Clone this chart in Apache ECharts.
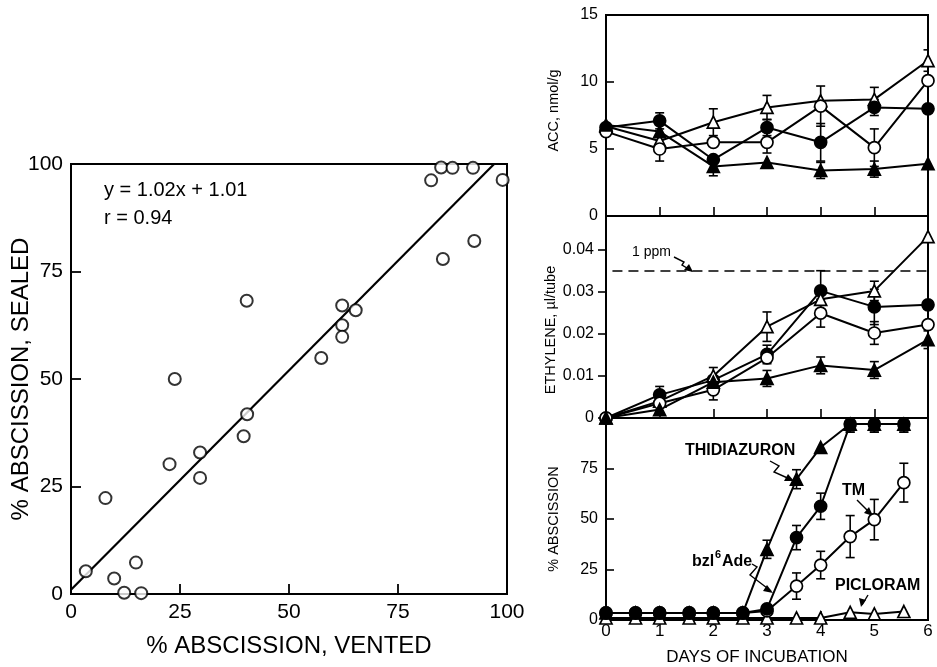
<!DOCTYPE html>
<html>
<head>
<meta charset="utf-8">
<script src="https://cdn.jsdelivr.net/npm/echarts@6/dist/echarts.min.js"></script>
<style>
  html, body { margin: 0; padding: 0; background: #fff; }
  #chart { width: 937px; height: 667px; }
</style>
</head>
<body>
<div id="chart"></div>
<script>
// left panel: vented vs sealed abscission (%)
const ventedX = [3.4, 9.9, 12.2, 16.1, 14.9, 7.9, 22.6, 23.8, 29.6, 29.6, 39.6, 40.4, 40.3, 57.4,
  62.2, 62.2, 62.2, 65.3, 82.6, 84.9, 87.5, 92.2, 99.0, 85.3, 92.5]
const sealedY = [5.3, 3.6, 0.3, 0.2, 7.3, 22.3, 30.2, 50.0, 32.9, 27.0, 36.7, 41.8, 68.2, 54.9,
  67.1, 62.5, 59.8, 66.0, 96.2, 99.2, 99.1, 99.1, 96.3, 77.9, 82.1]
const fitSlope = 1.02
const fitIntercept = 1.01

// right panels: days of incubation
const daysWhole = [0, 1, 2, 3, 4, 5, 6]
const daysHalf = [0, 0.55, 1, 1.55, 2, 2.55, 3, 3.55, 4, 4.55, 5, 5.55]

// ACC, nmol/g
const accPicloram = [6.7, 5.6, 7.0, 8.1, 8.6, 8.7, 11.6]
const accPicloramErr = [0, 0, 1.0, 0.9, 0, 0.9, 0.8]
const accBzl = [6.6, 7.1, 4.2, 6.6, 5.5, 8.1, 8.0]
const accBzlErr = [0, 0.6, 0, 0.6, 1.4, 0.6, 0]
const accTM = [6.3, 5.0, 5.5, 5.5, 8.2, 5.1, 10.1]
const accTMErr = [0, 0.9, 0, 0.8, 1.5, 1.4, 0]
const accThid = [6.8, 6.3, 3.7, 4.0, 3.4, 3.5, 3.9]
const accThidErr = [0, 0, 0.7, 0, 0.6, 0.6, 0]

// ethylene, µl/tube
const ethBzl = [0, 0.0055, 0.009, 0.0151, 0.0302, 0.0264, 0.0269]
const ethBzlErr = [0, 0.002, 0, 0.0022, 0.0048, 0.0042, 0]
const ethPicloram = [0, 0.004, 0.010, 0.0217, 0.0282, 0.0302, 0.0431]
const ethPicloramErr = [0, 0, 0.002, 0.0035, 0, 0.0023, 0]
const ethTM = [0, 0.0035, 0.0067, 0.0143, 0.0249, 0.0202, 0.0222]
const ethTMErr = [0, 0, 0.0024, 0, 0.0033, 0.0027, 0]
const ethThid = [0, 0.002, 0.0085, 0.0094, 0.0125, 0.0114, 0.0186]
const ethThidErr = [0, 0, 0, 0.0019, 0.002, 0.002, 0.0021]
const onePpm = 0.035

// % abscission
const absThid = [3.5, 3.5, 3.5, 3.5, 3.5, 3.5, 35, 69.7, 85.5, 97, 97, 97]
const absThidErr = [0, 0, 0, 0, 0, 0, 4.5, 4.7, 0, 4, 4, 4]
const absBzl = [3.5, 3.5, 3.5, 3.5, 3.5, 3.5, 5.5, 40.8, 56.3, 97, 97, 97]
const absBzlErr = [0, 0, 0, 0, 0, 0, 0, 6, 6.5, 4, 4, 4]
const absTM = [3.5, 3.5, 3.5, 3.5, 3.5, 3.5, 4.5, 16.8, 27.2, 41.3, 49.7, 68]
const absTMErr = [0, 0, 0, 0, 0, 0, 0, 6.5, 6.8, 10.4, 10, 9.6]
const absPicloram = [1, 1, 1, 1, 1, 1, 1, 1, 1, 3.8, 3, 4.2]

const FONT = 'Liberation Sans'
const chart = echarts.init(document.getElementById('chart'))

const pairs = (xs, ys) => xs.map((x, i) => [x, ys[i]])
const errRows = (xs, ys, es) => xs.map((x, i) => [x, ys[i] - es[i], ys[i] + es[i]]).filter((r, i) => es[i] > 0)

// marker styles
const sym = {
  thid: { symbol: 'triangle', fill: '#000' },
  bzl: { symbol: 'circle', fill: '#000' },
  tm: { symbol: 'circle', fill: '#fff' },
  pic: { symbol: 'triangle', fill: '#fff' }
}

function lineSeries(idx, xs, ys, kind, z) {
  return {
    type: 'line', xAxisIndex: idx, yAxisIndex: idx,
    data: pairs(xs, ys),
    symbol: sym[kind].symbol, symbolSize: 12, showAllSymbol: true,
    lineStyle: { color: '#000', width: 2 },
    itemStyle: { color: sym[kind].fill, borderColor: '#000', borderWidth: 1.7 },
    z: z || 3, animation: false
  }
}

function errSeries(idx, xs, ys, es) {
  return {
    type: 'custom', xAxisIndex: idx, yAxisIndex: idx,
    data: errRows(xs, ys, es), clip: true, z: 2, animation: false,
    renderItem: function (params, api) {
      const top = api.coord([api.value(0), api.value(2)])
      const bot = api.coord([api.value(0), api.value(1)])
      const w = 4.5
      const st = { stroke: '#000', lineWidth: 1.6 }
      return {
        type: 'group', children: [
          { type: 'line', shape: { x1: top[0], y1: top[1], x2: bot[0], y2: bot[1] }, style: st },
          { type: 'line', shape: { x1: top[0] - w, y1: top[1], x2: top[0] + w, y2: top[1] }, style: st },
          { type: 'line', shape: { x1: bot[0] - w, y1: bot[1], x2: bot[0] + w, y2: bot[1] }, style: st }
        ]
      }
    }
  }
}

const box = { show: true, borderColor: '#000', borderWidth: 2, backgroundColor: 'transparent' }
const RL = 606, RW = 322

const grids = [
  Object.assign({ left: 71, top: 164, width: 436, height: 430 }, box),
  Object.assign({ left: RL, top: 15, width: RW, height: 201 }, box),
  Object.assign({ left: RL, top: 216, width: RW, height: 202 }, box),
  Object.assign({ left: RL, top: 418, width: RW, height: 202 }, box)
]

const dayAxis = (i, labels) => ({
  type: 'value', gridIndex: i, min: 0, max: 6, interval: 1,
  axisLine: { show: false }, splitLine: { show: false },
  axisTick: { show: true, inside: true, length: 9, lineStyle: { color: '#000', width: 1.6 } },
  axisLabel: labels
    ? { show: true, margin: 3, color: '#000', fontSize: 17, fontFamily: FONT }
    : { show: false },
  name: labels ? 'DAYS OF INCUBATION' : '', nameLocation: 'middle', nameGap: 29,
  nameTextStyle: { color: '#000', fontSize: 17, fontFamily: FONT, padding: [0, 20, 0, 0] }
})

const rightY = (i, min, max, interval, name, extra) => Object.assign({
  type: 'value', gridIndex: i, min: min, max: max, interval: interval,
  axisLine: { show: false }, splitLine: { show: false },
  axisTick: { show: true, inside: true, length: 8, lineStyle: { color: '#000', width: 1.6 } },
  axisLabel: { margin: 8, color: '#000', fontSize: 16, fontFamily: FONT, showMaxLabel: true },
  name: name, nameLocation: 'middle', nameGap: 45,
  nameTextStyle: { color: '#000', fontSize: 14.5, fontFamily: FONT }
}, extra || {})

const option = {
  animation: false,
  backgroundColor: '#fff',
  grid: grids,
  xAxis: [
    {
      type: 'value', gridIndex: 0, min: 0, max: 100, interval: 25,
      axisLine: { show: false }, splitLine: { show: false },
      axisTick: { show: true, inside: true, length: 10, lineStyle: { color: '#000', width: 1.8 } },
      axisLabel: { margin: 8, color: '#000', fontSize: 21, fontFamily: FONT },
      name: '% ABSCISSION, VENTED', nameLocation: 'middle', nameGap: 40,
      nameTextStyle: { color: '#000', fontSize: 24, fontFamily: FONT }
    },
    dayAxis(1, false),
    dayAxis(2, false),
    dayAxis(3, true)
  ],
  yAxis: [
    {
      type: 'value', gridIndex: 0, min: 0, max: 100, interval: 25,
      axisLine: { show: false }, splitLine: { show: false },
      axisTick: { show: true, inside: true, length: 10, lineStyle: { color: '#000', width: 1.8 } },
      axisLabel: { margin: 8, color: '#000', fontSize: 21, fontFamily: FONT },
      name: '% ABSCISSION, SEALED', nameLocation: 'middle', nameGap: 38, nameMoveOverlap: false,
      nameTextStyle: { color: '#000', fontSize: 24, fontFamily: FONT }
    },
    rightY(1, 0, 15, 5, 'ACC, nmol/g', {
      nameTextStyle: { color: '#000', fontSize: 14.5, fontFamily: FONT, padding: [0, 0, 0, 10] }
    }),
    rightY(2, 0, 0.048, 0.01, 'ETHYLENE, \u00b5l/tube', {
      axisTick: { show: true, inside: false, length: 8, lineStyle: { color: '#000', width: 1.6 } },
      axisLabel: { margin: 12, color: '#000', fontSize: 16, fontFamily: FONT, showMaxLabel: false },
      nameTextStyle: { color: '#000', fontSize: 14.5, fontFamily: FONT, padding: [0, 26, 0, 0] }
    }),
    rightY(3, 0, 100, 25, '% ABSCISSION', {
      axisLabel: { margin: 8, color: '#000', fontSize: 16, fontFamily: FONT, showMaxLabel: false }
    })
  ],
  series: [
    {
      type: 'line', xAxisIndex: 0, yAxisIndex: 0,
      data: [[0, fitIntercept], [(100 - fitIntercept) / fitSlope, 100]],
      symbol: 'none', lineStyle: { color: '#000', width: 2.2 }, z: 2
    },
    {
      type: 'scatter', xAxisIndex: 0, yAxisIndex: 0,
      data: pairs(ventedX, sealedY),
      symbol: 'circle', symbolSize: 12, clip: false,
      itemStyle: { color: '#fff', borderColor: '#000', borderWidth: 2 }, z: 3
    },

    lineSeries(1, daysWhole, accPicloram, 'pic'),
    lineSeries(1, daysWhole, accBzl, 'bzl'),
    lineSeries(1, daysWhole, accTM, 'tm'),
    lineSeries(1, daysWhole, accThid, 'thid'),
    errSeries(1, daysWhole, accPicloram, accPicloramErr),
    errSeries(1, daysWhole, accBzl, accBzlErr),
    errSeries(1, daysWhole, accTM, accTMErr),
    errSeries(1, daysWhole, accThid, accThidErr),

    Object.assign(lineSeries(2, daysWhole, ethBzl, 'bzl'), {
      markLine: {
        silent: true, symbol: 'none', label: { show: false },
        lineStyle: { color: '#000', type: [10, 6], width: 1.7 },
        data: [[{ coord: [0.12, onePpm] }, { coord: [6, onePpm] }]]
      }
    }),
    lineSeries(2, daysWhole, ethPicloram, 'pic'),
    lineSeries(2, daysWhole, ethTM, 'tm'),
    lineSeries(2, daysWhole, ethThid, 'thid'),
    errSeries(2, daysWhole, ethBzl, ethBzlErr),
    errSeries(2, daysWhole, ethPicloram, ethPicloramErr),
    errSeries(2, daysWhole, ethTM, ethTMErr),
    errSeries(2, daysWhole, ethThid, ethThidErr),

    lineSeries(3, daysHalf, absPicloram, 'pic', 3),
    lineSeries(3, daysHalf, absTM, 'tm', 4),
    lineSeries(3, daysHalf, absThid, 'thid', 5),
    lineSeries(3, daysHalf, absBzl, 'bzl', 6),
    errSeries(3, daysHalf, absThid, absThidErr),
    errSeries(3, daysHalf, absBzl, absBzlErr),
    errSeries(3, daysHalf, absTM, absTMErr)
  ],
  graphic: [
    { type: 'text', left: 104, top: 180, style: { text: 'y = 1.02x + 1.01', font: '20px "Liberation Sans"', fill: '#000' } },
    { type: 'text', left: 104, top: 208, style: { text: 'r = 0.94', font: '20px "Liberation Sans"', fill: '#000' } },

    { type: 'text', left: 632, top: 245, style: { text: '1 ppm', font: '14px "Liberation Sans"', fill: '#000' } },
    { type: 'polyline', shape: { points: [[674, 257], [684, 262], [682, 265], [692, 271]] }, style: { stroke: '#000', lineWidth: 1.4, fill: null } },
    { type: 'polygon', shape: { points: [[693, 272], [684, 270], [689, 264]] }, style: { fill: '#000' } },

    { type: 'text', left: 685, top: 443, style: { text: 'THIDIAZURON', font: 'bold 16px "Liberation Sans"', fill: '#000' } },
    { type: 'polyline', shape: { points: [[770, 461], [779, 466], [774, 472], [792, 480]] }, style: { stroke: '#000', lineWidth: 1.4, fill: null } },
    { type: 'polygon', shape: { points: [[794, 481], [784, 481], [788, 474]] }, style: { fill: '#000' } },

    { type: 'text', left: 842, top: 483, style: { text: 'TM', font: 'bold 16px "Liberation Sans"', fill: '#000' } },
    { type: 'polyline', shape: { points: [[857, 500], [871, 514]] }, style: { stroke: '#000', lineWidth: 1.4, fill: null } },
    { type: 'polygon', shape: { points: [[873, 516], [864, 513], [869, 507]] }, style: { fill: '#000' } },

    { type: 'text', left: 692, top: 554, style: { text: 'bzl', font: 'bold 16px "Liberation Sans"', fill: '#000' } },
    { type: 'text', left: 715, top: 549, style: { text: '6', font: 'bold 11px "Liberation Sans"', fill: '#000' } },
    { type: 'text', left: 722, top: 554, style: { text: 'Ade', font: 'bold 16px "Liberation Sans"', fill: '#000' } },
    { type: 'polyline', shape: { points: [[752, 564], [757, 567], [750, 575], [771, 591]] }, style: { stroke: '#000', lineWidth: 1.4, fill: null } },
    { type: 'polygon', shape: { points: [[773, 593], [763, 591], [767, 585]] }, style: { fill: '#000' } },

    { type: 'text', left: 835, top: 578, style: { text: 'PICLORAM', font: 'bold 16px "Liberation Sans"', fill: '#000' } },
    { type: 'polyline', shape: { points: [[868, 595], [862, 605]] }, style: { stroke: '#000', lineWidth: 1.4, fill: null } },
    { type: 'polygon', shape: { points: [[861, 607], [859, 598], [866, 600]] }, style: { fill: '#000' } }
  ]
}

chart.setOption(option)
</script>
</body>
</html>
